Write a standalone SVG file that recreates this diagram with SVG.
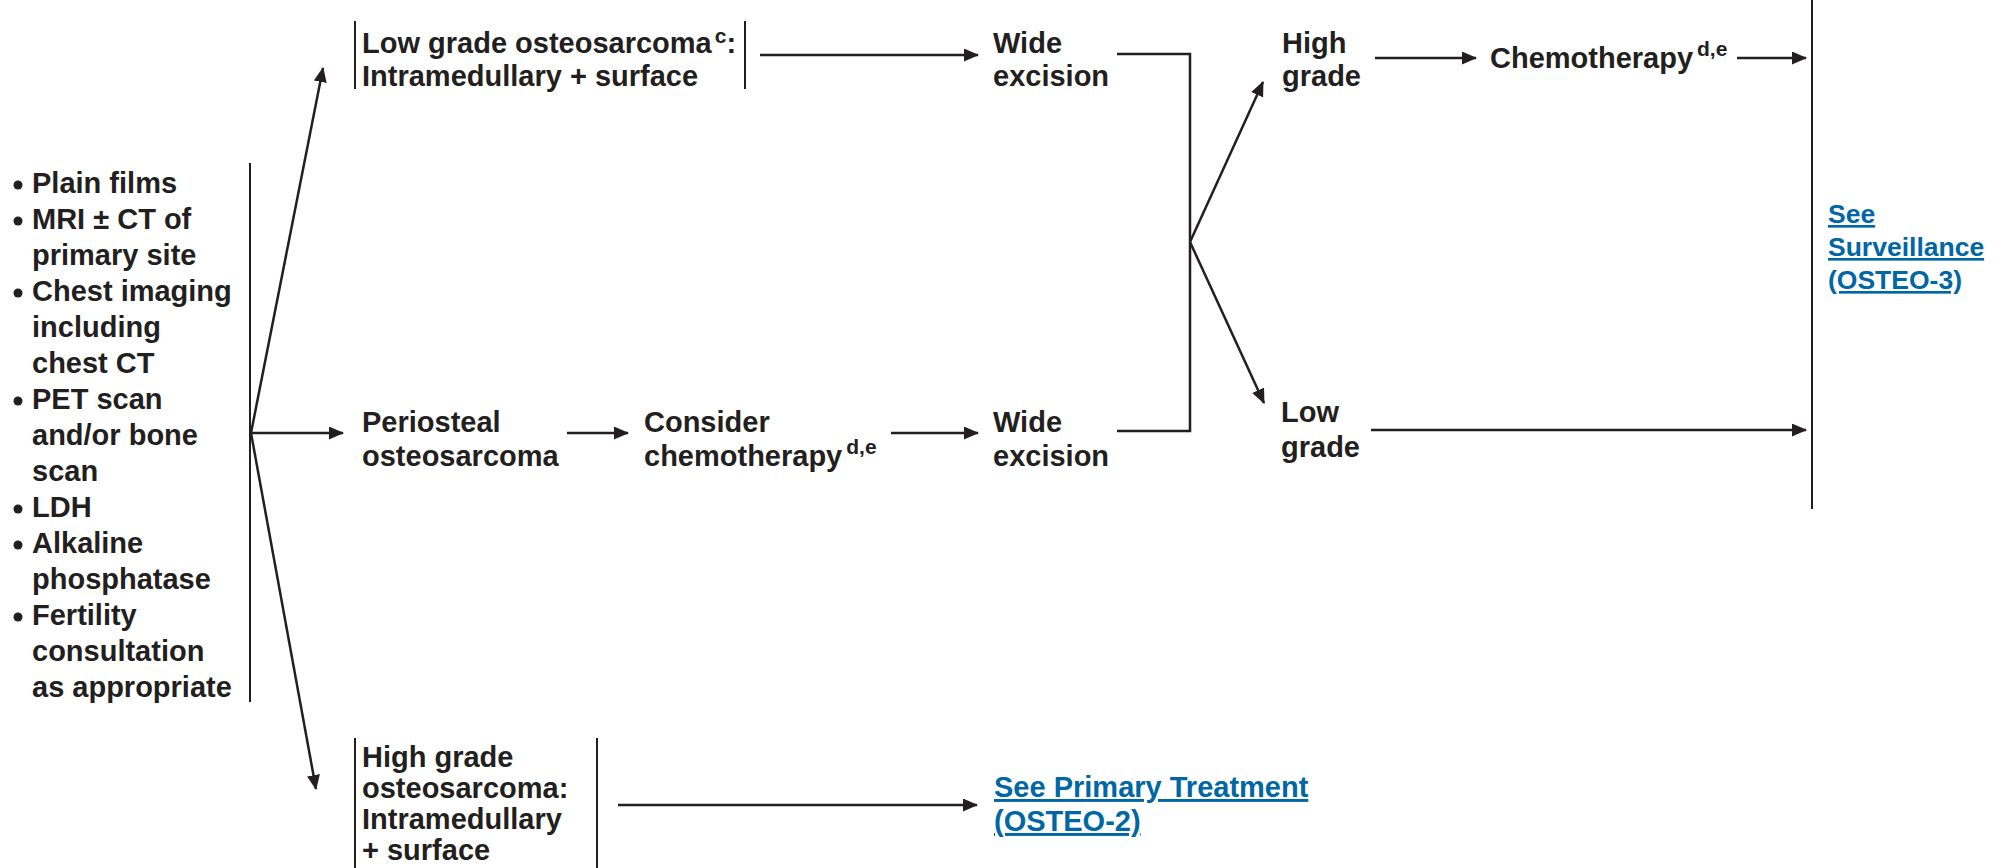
<svg xmlns="http://www.w3.org/2000/svg" width="2014" height="868" viewBox="0 0 2014 868">
  <style>
    text { font-family: "Liberation Sans", Arial, Helvetica, sans-serif; font-weight: bold; font-size: 29px; fill: #231f20; }
    .sup { font-size: 21px; }
    .link { fill: #0067a5; text-decoration: underline; }
    .small { font-size: 26.5px; }
    .ln { stroke: #231f20; stroke-width: 2.5; fill: none; }
    .bar { stroke: #231f20; stroke-width: 2; fill: none; }
    .arr { stroke: #231f20; stroke-width: 2.5; fill: none; marker-end: url(#ah); }
  </style>
  <defs>
    <marker id="ah" viewBox="0 0 15 13" refX="14" refY="6.5" markerWidth="15" markerHeight="13" markerUnits="userSpaceOnUse" orient="auto">
      <path d="M0,0 L15,6.5 L0,13 Z" fill="#231f20"/>
    </marker>
  </defs>
  <rect width="2014" height="868" fill="#ffffff"/>

  <!-- Workup list -->
  <g id="workup">
    <g fill="#231f20">
      <circle cx="18" cy="185" r="4.5"/>
      <circle cx="18" cy="221" r="4.5"/>
      <circle cx="18" cy="293" r="4.5"/>
      <circle cx="18" cy="401" r="4.5"/>
      <circle cx="18" cy="509" r="4.5"/>
      <circle cx="18" cy="545" r="4.5"/>
      <circle cx="18" cy="617" r="4.5"/>
    </g>
    <text x="32" y="193">Plain films</text>
    <text x="32" y="229">MRI ± CT of</text>
    <text x="32" y="265">primary site</text>
    <text x="32" y="301">Chest imaging</text>
    <text x="32" y="337">including</text>
    <text x="32" y="373">chest CT</text>
    <text x="32" y="409">PET scan</text>
    <text x="32" y="445">and/or bone</text>
    <text x="32" y="481">scan</text>
    <text x="32" y="517">LDH</text>
    <text x="32" y="553">Alkaline</text>
    <text x="32" y="589">phosphatase</text>
    <text x="32" y="625">Fertility</text>
    <text x="32" y="661">consultation</text>
    <text x="32" y="697">as appropriate</text>
    <line class="bar" x1="250" y1="163" x2="250" y2="702"/>
  </g>

  <!-- Low grade osteosarcoma -->
  <g id="low-grade-osteo">
    <line class="bar" x1="355" y1="21" x2="355" y2="89"/>
    <line class="bar" x1="745" y1="21" x2="745" y2="89"/>
    <text x="362" y="53">Low grade osteosarcoma<tspan class="sup" dx="3" dy="-10">c</tspan><tspan dy="10">:</tspan></text>
    <text x="362" y="86">Intramedullary + surface</text>
  </g>

  <g id="wide-excision-1">
    <text x="993" y="53">Wide</text>
    <text x="993" y="86">excision</text>
  </g>

  <g id="high-grade">
    <text x="1282" y="53">High</text>
    <text x="1282" y="86">grade</text>
  </g>

  <g id="chemotherapy">
    <text x="1490" y="68">Chemotherapy<tspan class="sup" dx="4" dy="-12">d,e</tspan></text>
  </g>

  <g id="low-grade">
    <text x="1281" y="422">Low</text>
    <text x="1281" y="457">grade</text>
  </g>

  <!-- Periosteal osteosarcoma -->
  <g id="periosteal">
    <text x="362" y="432">Periosteal</text>
    <text x="362" y="466">osteosarcoma</text>
  </g>

  <g id="consider-chemo">
    <text x="644" y="432">Consider</text>
    <text x="644" y="466">chemotherapy<tspan class="sup" dx="4" dy="-12">d,e</tspan></text>
  </g>

  <g id="wide-excision-2">
    <text x="993" y="432">Wide</text>
    <text x="993" y="466">excision</text>
  </g>

  <!-- High grade osteosarcoma -->
  <g id="high-grade-osteo">
    <line class="bar" x1="355" y1="738" x2="355" y2="868"/>
    <line class="bar" x1="597" y1="738" x2="597" y2="868"/>
    <text x="362" y="767">High grade</text>
    <text x="362" y="798">osteosarcoma:</text>
    <text x="362" y="829">Intramedullary</text>
    <text x="362" y="860">+ surface</text>
  </g>

  <g id="primary-treatment">
    <text class="link" x="994" y="797">See Primary Treatment</text>
    <text class="link" x="994" y="831">(OSTEO-2)</text>
  </g>

  <g id="surveillance">
    <line class="bar" x1="1812" y1="0" x2="1812" y2="509"/>
    <text class="link small" x="1828" y="223">See</text>
    <text class="link small" x="1828" y="256">Surveillance</text>
    <text class="link small" x="1828" y="289">(OSTEO-3)</text>
  </g>

  <!-- Connectors -->
  <g id="connectors">
    <line class="arr" x1="251" y1="433" x2="323" y2="68"/>
    <line class="arr" x1="251" y1="433" x2="343" y2="433"/>
    <line class="arr" x1="251" y1="433" x2="316" y2="789"/>

    <line class="arr" x1="760" y1="55" x2="978" y2="55"/>
    <line class="arr" x1="567" y1="433" x2="628" y2="433"/>
    <line class="arr" x1="891" y1="433" x2="978" y2="433"/>

    <polyline class="ln" points="1117,54 1190,54 1190,431 1117,431"/>
    <line class="arr" x1="1190" y1="242" x2="1263" y2="82"/>
    <line class="arr" x1="1190" y1="242" x2="1264" y2="403"/>

    <line class="arr" x1="1375" y1="58" x2="1476" y2="58"/>
    <line class="arr" x1="1737" y1="58" x2="1806" y2="58"/>
    <line class="arr" x1="1371" y1="430" x2="1806" y2="430"/>

    <line class="arr" x1="618" y1="805" x2="977" y2="805"/>
  </g>
</svg>
